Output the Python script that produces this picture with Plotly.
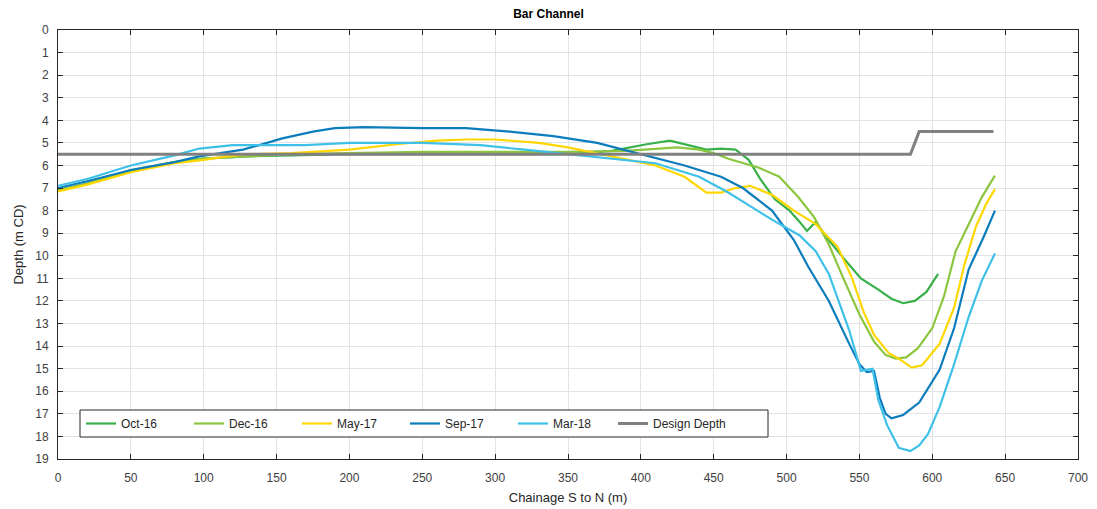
import plotly.graph_objects as go

# ---------------- data ----------------
oct16_x = [0, 20, 50, 80, 100, 130, 160, 200, 250, 300, 350, 380, 395, 405, 420, 430, 445, 455, 465, 474, 482, 492, 502, 509, 514, 520, 529, 539, 551, 563, 572, 580, 588, 596, 604]
oct16_y = [7.1, 6.8, 6.25, 5.85, 5.7, 5.6, 5.55, 5.5, 5.5, 5.5, 5.5, 5.35, 5.15, 5.05, 4.9, 5.05, 5.3, 5.25, 5.3, 5.75, 6.6, 7.5, 8.0, 8.5, 8.9, 8.5, 9.3, 10.1, 11.0, 11.5, 11.9, 12.1, 12.0, 11.6, 10.8]

dec16_x = [0, 20, 50, 80, 100, 130, 160, 200, 250, 300, 350, 390, 410, 425, 440, 450, 460, 470, 481, 495, 508, 519, 529, 539, 550, 560, 568, 575, 582, 590, 600, 608, 616, 625, 634, 643]
dec16_y = [7.1, 6.8, 6.2, 5.85, 5.7, 5.6, 5.5, 5.45, 5.4, 5.4, 5.4, 5.35, 5.25, 5.2, 5.3, 5.45, 5.7, 5.9, 6.1, 6.5, 7.4, 8.3, 9.5, 11.0, 12.6, 13.8, 14.4, 14.55, 14.5, 14.1, 13.2, 11.8, 9.8, 8.6, 7.4, 6.45]

may17_x = [0, 20, 50, 80, 100, 110, 130, 160, 200, 234, 260, 280, 300, 330, 350, 380, 410, 430, 445, 455, 465, 475, 490, 505, 520, 535, 545, 553, 560, 570, 578, 586, 593, 605, 615, 622, 630, 637, 643]
may17_y = [7.15, 6.85, 6.3, 5.9, 5.75, 5.65, 5.5, 5.45, 5.3, 5.05, 4.9, 4.85, 4.85, 5.0, 5.2, 5.6, 6.0, 6.5, 7.2, 7.2, 7.0, 6.9, 7.3, 8.0, 8.6, 9.6, 11.0, 12.5, 13.5, 14.3, 14.6, 14.95, 14.85, 13.9, 12.3, 10.4, 8.7, 7.7, 7.05]

sep17_x = [0, 20, 50, 80, 97, 127, 154, 175, 190, 210, 250, 280, 310, 340, 370, 400, 430, 455, 470, 490, 505, 515, 529, 543, 550, 555, 560, 564, 568, 572, 580, 591, 605, 615, 625, 635, 643]
sep17_y = [7.0, 6.7, 6.2, 5.85, 5.6, 5.3, 4.8, 4.5, 4.35, 4.3, 4.35, 4.35, 4.5, 4.7, 5.0, 5.5, 6.0, 6.5, 7.0, 8.0, 9.3, 10.5, 12.0, 13.9, 14.8, 15.15, 15.1, 16.3, 17.0, 17.2, 17.05, 16.5, 15.05, 13.2, 10.6, 9.2, 8.0]

mar18_x = [0, 20, 50, 80, 97, 120, 170, 200, 250, 290, 320, 350, 380, 410, 440, 460, 475, 490, 509, 520, 529, 543, 551, 559, 563, 569, 577, 585, 591, 597, 605, 615, 625, 634, 643]
mar18_y = [6.9, 6.6, 6.0, 5.55, 5.25, 5.1, 5.1, 5.0, 5.0, 5.1, 5.3, 5.5, 5.7, 5.9, 6.5, 7.2, 7.8, 8.4, 9.1, 9.8, 10.8, 13.3, 15.1, 15.0, 16.4, 17.5, 18.5, 18.65, 18.4, 17.9, 16.7, 14.8, 12.7, 11.1, 9.9]

design_x = [0, 585, 591, 642]
design_y = [5.5, 5.5, 4.5, 4.5]

names = ["Oct-16", "Dec-16", "May-17", "Sep-17", "Mar-18", "Design Depth"]
xs = [oct16_x, dec16_x, may17_x, sep17_x, mar18_x, design_x]
ys = [oct16_y, dec16_y, may17_y, sep17_y, mar18_y, design_y]
colors = ["#39B04A", "#8CC63F", "#FFD700", "#0B7CBC", "#3EC0E8", "#808080"]
widths = [2.2, 2.2, 2.2, 2.2, 2.2, 3]
legend_ids = ["legend", "legend", "legend", "legend", "legend", "legend2"]

x_ticks = list(range(0, 701, 50))
y_ticks = list(range(0, 20))

# ---------------- figure ----------------
fig = go.Figure()
for n, x, y, c, w, lg in zip(names, xs, ys, colors, widths, legend_ids):
    fig.add_trace(go.Scatter(x=x, y=y, mode="lines", name=n, legend=lg,
                             line=dict(color=c, width=w)))

axis_common = dict(
    showgrid=True, gridcolor="#E3E3E3", gridwidth=1,
    showline=True, linecolor="#262626", linewidth=1, mirror="allticks",
    ticks="inside", ticklen=5, tickcolor="#262626",
    tickfont=dict(family="Liberation Sans, Arial", size=12, color="#404040"),
    zeroline=False, automargin=False,
)

# plot area in px: left 58, right 1078, top 30, bottom 459
def px_x(p):
    return (p - 58) / 1020.0

def px_y(p):
    return (459 - p) / 429.0

legend_common = dict(orientation="h", yanchor="middle", xanchor="left",
                     y=px_y(423.5), bgcolor="rgba(0,0,0,0)", borderwidth=0,
                     font=dict(size=12, color="#262626"))

fig.update_layout(
    width=1097, height=509,
    margin=dict(l=58, r=19, t=30, b=50),
    paper_bgcolor="white", plot_bgcolor="white",
    font=dict(family="Liberation Sans, Arial", size=12, color="#262626"),
    title=dict(text="<b>Bar Channel</b>", x=0.5, xanchor="center",
               y=1 - 14 / 509, yanchor="middle",
               font=dict(size=12, color="#000000")),
    xaxis=dict(range=[0, 700], tickvals=x_ticks, ticklabelstandoff=8,
               title=dict(text="Chainage S to N (m)", standoff=8,
                          font=dict(size=13, color="#262626")),
               **axis_common),
    yaxis=dict(range=[19, 0], tickvals=y_ticks, ticklabelstandoff=6,
               title=dict(text="Depth (m CD)", standoff=8,
                          font=dict(size=13, color="#262626")),
               **axis_common),
    legend=dict(x=px_x(81), entrywidth=63, entrywidthmode="pixels",
                traceorder="normal", **legend_common),
    legend2=dict(x=px_x(613), **legend_common),
    shapes=[dict(type="rect", xref="paper", yref="paper",
                 x0=px_x(80), x1=px_x(768), y0=px_y(437), y1=px_y(410),
                 line=dict(color="#262626", width=1), fillcolor="white",
                 layer="above")],
    showlegend=True,
)

fig.write_html("out.html")
